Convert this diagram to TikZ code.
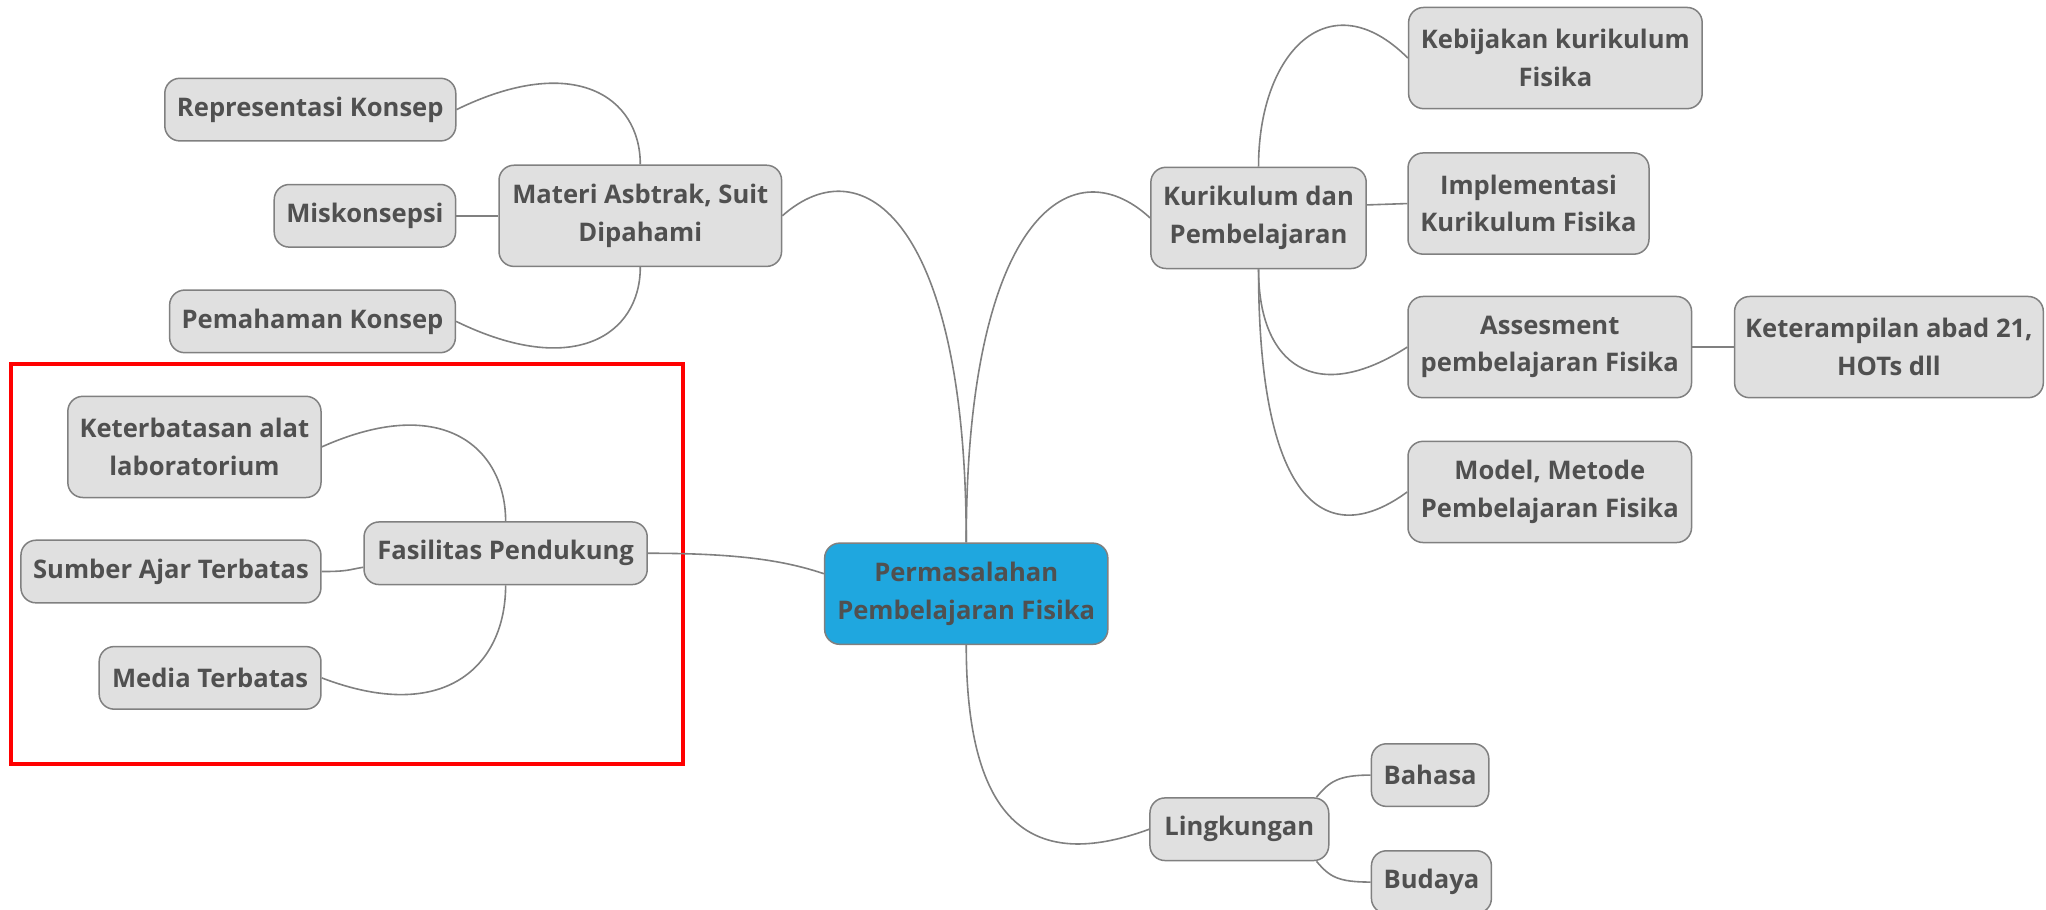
\documentclass[tikz,border=0pt]{standalone}
\usepackage{fontspec}
\setmainfont{Open Sans}
\usetikzlibrary{positioning}
\definecolor{topicfill}{HTML}{E0E0E0}
\definecolor{topicline}{HTML}{808080}
\definecolor{topictext}{HTML}{505050}
\definecolor{rootfill}{HTML}{1FA7DF}
\tikzstyle{every node}=[font=\fontsize{12.8}{18.8}\selectfont\bfseries]
\tikzstyle{topic}=[draw=topicline,fill=topicfill,text=topictext,rounded corners=7.5pt,line width=0.75pt,align=center,inner sep=0pt,minimum height=31.3pt]
\tikzstyle{two}=[minimum height=50.6pt]
\tikzstyle{link}=[draw=topicline,line width=0.8pt]

\begin{document}
\begin{tikzpicture}[x=0.6525pt,y=-0.6525pt]
    \useasboundingbox (0,0) rectangle (1568,697);
    \node[topic, two, fill=rootfill, minimum width=141.6pt] (c) at (740.5,455) {Permasalahan\\Pembelajaran Fisika};
    % left side
    \node[topic, two, minimum width=141.3pt] (m) at (490.7,165.4) {Materi Asbtrak, Suit\\Dipahami};
    \node[topic, minimum width=145.5pt] (m1) at (237.8,84) {Representasi Konsep};
    \node[topic, left of=m, node distance=137.7pt, minimum width=90.7pt] (m2) {Miskonsepsi};
    \node[topic, minimum width=142.9pt] (m3) at (239.5,246.3) {Pemahaman Konsep};
    \node[topic, minimum width=141.6pt] (f) at (387.5,424) {Fasilitas Pendukung};
    \node[topic, two, minimum width=126.6pt] (f1) at (149,342.5) {Keterbatasan alat\\laboratorium};
    \node[topic, minimum width=150pt] (f2) at (131,438) {Sumber Ajar Terbatas};
    \node[topic, minimum width=110.9pt] (f3) at (161,519.5) {Media Terbatas};
    % right side
    \node[topic, two, minimum width=107.7pt] (k) at (964.5,167) {Kurikulum dan\\Pembelajaran};
    \node[topic, two, minimum width=146.8pt] (k1) at (1192,44.5) {Kebijakan kurikulum\\Fisika};
    \node[topic, two, minimum width=120.5pt] (k2) at (1171.4,156) {Implementasi\\Kurikulum Fisika};
    \node[topic, two, minimum width=141.8pt] (k3) at (1187.7,266) {Assesment\\pembelajaran Fisika};
    \node[topic, two, right of=k3, node distance=169.6pt, minimum width=154.4pt] (k31) {Keterampilan abad 21,\\HOTs dll};
    \node[topic, two, minimum width=141.8pt] (k4) at (1187.7,377) {Model, Metode\\Pembelajaran Fisika};
    \node[topic, minimum width=89.4pt] (l) at (949.8,635.5) {Lingkungan};
    \node[topic, minimum width=58.7pt] (l1) at (1096,594) {Bahasa};
    \node[topic, minimum width=60pt] (l2) at (1097,676) {Budaya};
    % highlight
    \draw[red, line width=1.6pt] (8.4,279) rectangle (523.5,585.5);
    % links
    \draw[link] (c.north) .. controls +(0,-245) and +(62,-55) .. (m.east);
    \draw[link] (c.north) .. controls +(0,-245) and +(-62,-57) .. (k.west);
    \draw[link] (c.south) .. controls +(0,147) and +(-82,30) .. (l.west);
    \draw[link] (f.east) .. controls +(70,0) and +(-30,-10) .. ([yshift=10pt]c.west);
    \draw[link] (m.north) .. controls +(0,-52) and +(90,-44) .. (m1.east);
    \draw[link] (m.west) -- (m2.east);
    \draw[link] (m.south) .. controls +(0,52) and +(90,44) .. (m3.east);
    \draw[link] (f.north) .. controls +(0,-55) and +(94,-42) .. (f1.east);
    \draw[link] (f2.east) .. controls +(20,0) and +(-12,2) .. ([yshift=-7pt]f.west);
    \draw[link] (f.south) .. controls +(0,62) and +(94,36) .. (f3.east);
    \draw[link] (k.north) .. controls +(0,-88) and +(-60,-60) .. (k1.west);
    \draw[link] ([yshift=6.5pt]k.east) .. controls +(15,0) and +(-15,0) .. (k2.west);
    \draw[link] (k.south) .. controls +(0,74) and +(-70,45) .. (k3.west);
    \draw[link] (k.south) .. controls +(0,184) and +(-60,44) .. (k4.west);
    \draw[link] (k3.east) -- (k31.west);
    \draw[link] ([xshift=-6.5pt]l.north east) .. controls +(10,-12) and +(-25,0) .. (l1.west);
    \draw[link] ([xshift=-6.5pt]l.south east) .. controls +(10,12) and +(-25,0) .. (l2.west);
\end{tikzpicture}
\end{document}
